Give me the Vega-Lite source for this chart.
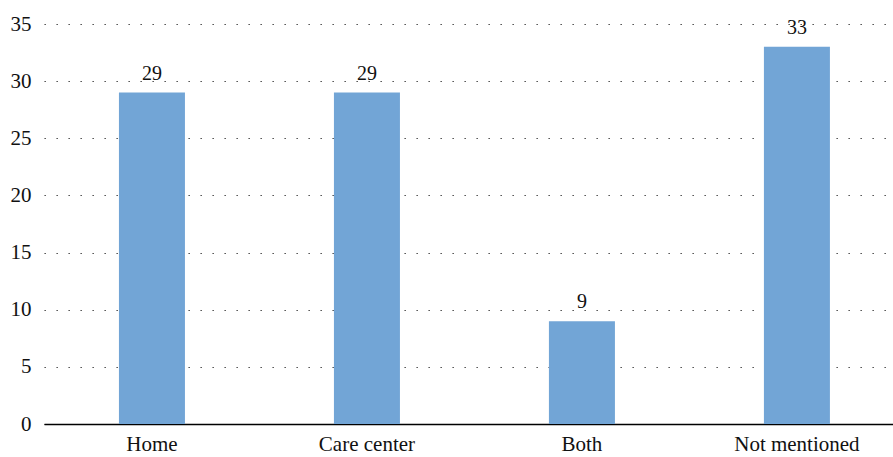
{
  "$schema": "https://vega.github.io/schema/vega-lite/v6.json",
  "width": 849,
  "height": 400,
  "autosize": {"type": "none"},
  "padding": {"left": 44, "top": 24, "right": 0, "bottom": 33},
  "background": "white",
  "config": {"view": {"stroke": null}, "font": "Liberation Serif"},
  "data": {"values": [
    {"place": "Home", "count": 29},
    {"place": "Care center", "count": 29},
    {"place": "Both", "count": 9},
    {"place": "Not mentioned", "count": 33}
  ]},
  "encoding": {
    "x": {"field": "place", "type": "nominal", "sort": null,
      "scale": {"paddingInner": 0.693, "paddingOuter": 0.321, "align": 0.543},
      "axis": {"title": null, "labelAngle": 0, "labelFont": "Liberation Serif", "labelFontSize": 21, "labelColor": "#111", "labelPadding": 9, "ticks": false, "domainColor": "#000", "domainWidth": 1.5, "grid": false}},
    "y": {"field": "count", "type": "quantitative",
      "scale": {"domain": [0, 35]},
      "axis": {"title": null, "values": [0,5,10,15,20,25,30,35], "labelFont": "Liberation Serif", "labelFontSize": 21, "labelColor": "#111", "labelPadding": 13, "ticks": false, "domain": false, "grid": true, "gridColor": "#333", "gridDash": [1.3, 10.7], "gridWidth": 1.2}}
  },
  "layer": [
    {"mark": {"type": "bar", "color": "#72a5d6"}},
    {"mark": {"type": "text", "baseline": "alphabetic", "dy": -13, "fontSize": 20, "font": "Liberation Serif", "color": "#111"},
     "encoding": {"text": {"field": "count", "type": "quantitative"}}}
  ]
}
